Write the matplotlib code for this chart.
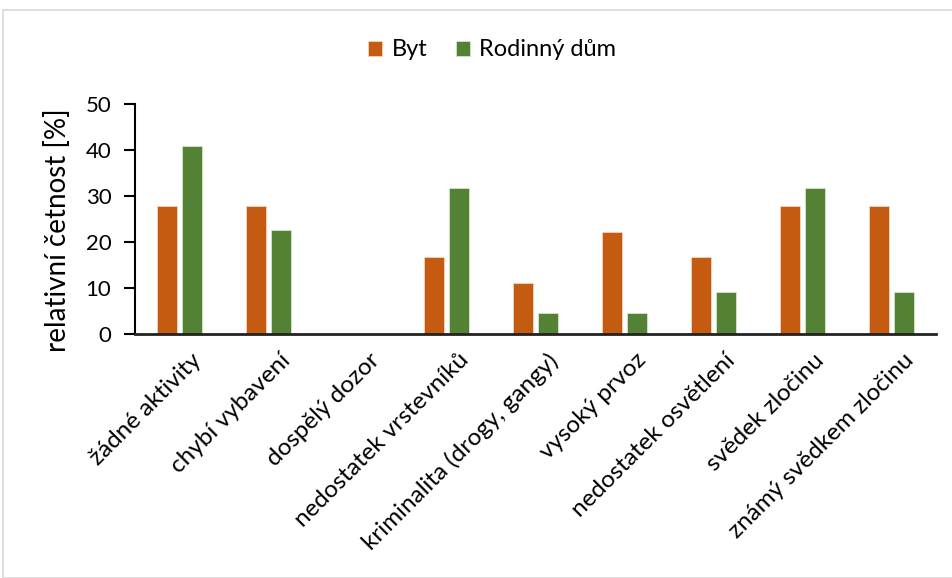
import matplotlib.pyplot as plt
import matplotlib.patches as mpatches
import matplotlib.transforms as mtrans
import numpy as np

plt.rcParams['font.family'] = ['Lato', 'DejaVu Sans']

# Data
categories = ["žádné aktivity", "chybí vybavení", "dospělý dozor",
              "nedostatek vrstevníků", "kriminalita (drogy, gangy)",
              "vysoký prvoz", "nedostatek osvětlení", "svědek zločinu",
              "známý svědkem zločinu"]
byt = [27.8, 27.8, 0, 16.7, 11.1, 22.2, 16.7, 27.8, 27.8]
dum = [40.9, 22.7, 0, 31.8, 4.5, 4.5, 9.1, 31.8, 9.1]
series_names = ["Byt", "Rodinný dům"]
yticks = [0, 10, 20, 30, 40, 50]

c_byt = '#C55A11'
c_dum = '#548235'

fig = plt.figure(figsize=(9.52, 5.78), dpi=100)
ax = fig.add_axes([135/952, 1-334/578, (936-135)/952, (334-104)/578])

# light frame around chart area
fig.patches.append(mpatches.Rectangle((3/952, 0), 1, 1-10/578, transform=fig.transFigure,
                                      fill=False, edgecolor='#d9d9d9', linewidth=1.2))

x = np.arange(len(categories))
w = 0.23
off = 0.14
ax.bar(x - off, byt, w, color=c_byt, edgecolor='#f4d3bf', linewidth=0.6, label=series_names[0])
ax.bar(x + off, dum, w, color=c_dum, edgecolor='#d6e4cc', linewidth=0.6, label=series_names[1])

ax.set_xlim(-0.5, len(categories) - 0.5)
ax.set_ylim(0, 50)
ax.set_yticks(yticks)
ax.set_xticks(x)
ax.set_xticklabels(categories, rotation=45, ha='right', rotation_mode='anchor', fontsize=17.5)
ax.tick_params(axis='x', length=0, pad=6)
ax.tick_params(axis='y', length=8, width=1.5, labelsize=16, pad=9)

# nudge the rotated labels a bit right/down
shift = mtrans.ScaledTranslation(11/100, -7/100, fig.dpi_scale_trans)
for lab in ax.get_xticklabels():
    lab.set_transform(lab.get_transform() + shift)

for s in ['top', 'right']:
    ax.spines[s].set_visible(False)
ax.spines['left'].set_linewidth(1.5)
ax.spines['bottom'].set_linewidth(2)
ax.spines['bottom'].set_color('#222222')

ax.set_ylabel("relativní četnost [%]", fontsize=20)
ax.yaxis.set_label_coords(-0.08, 0.45)

fig.legend(loc='center', bbox_to_anchor=(492/952, 1-50/578), ncol=2, frameon=False,
           fontsize=17, handlelength=0.6, handleheight=0.6, columnspacing=1.2,
           handletextpad=0.4)

fig.savefig("out.png", dpi=100)
